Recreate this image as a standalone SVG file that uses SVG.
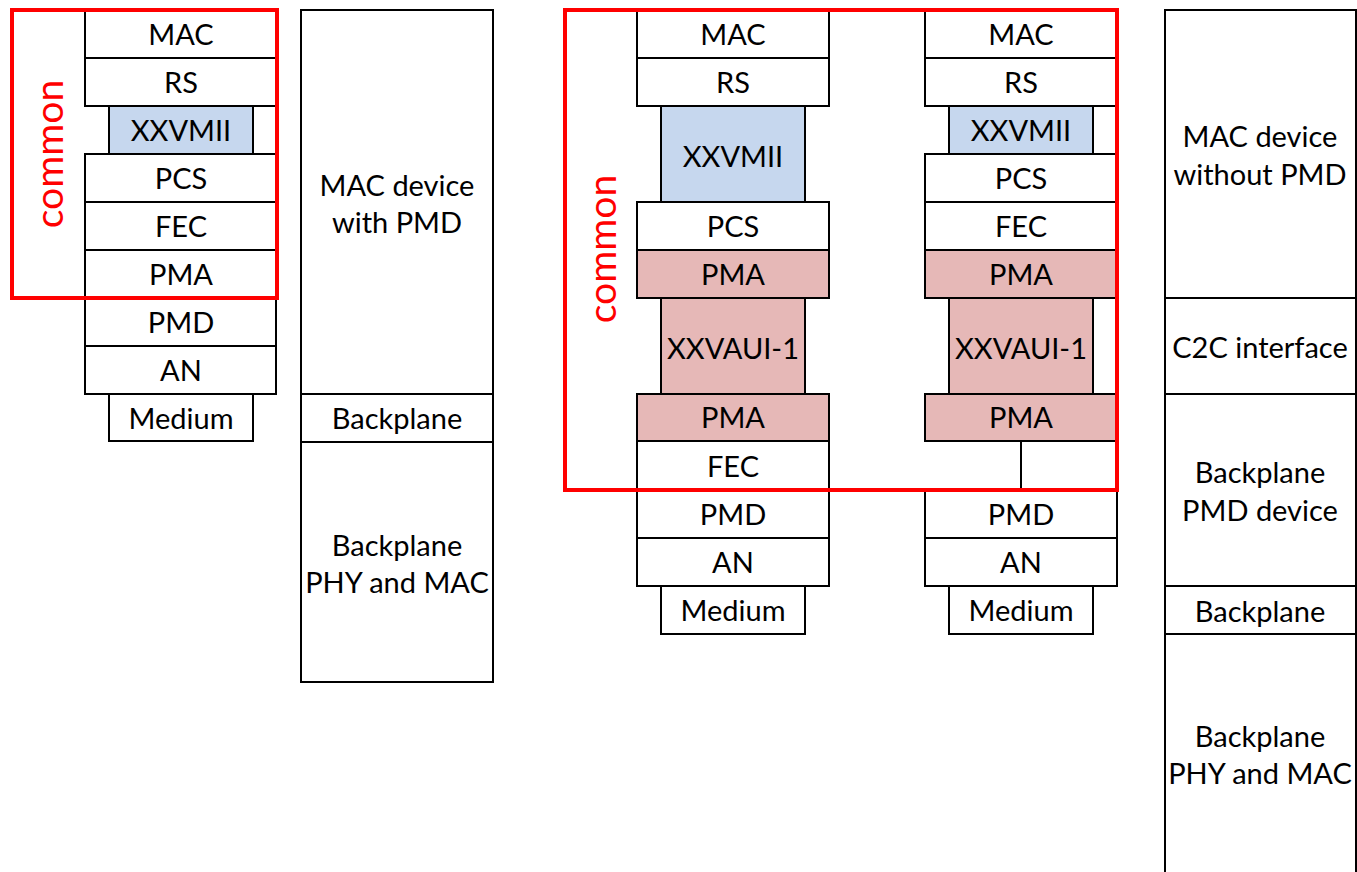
<svg xmlns="http://www.w3.org/2000/svg" width="1357" height="872" viewBox="0 0 1357 872">
<style>
.b{fill:#ffffff;stroke:#000000;stroke-width:2}
.bl{fill:#c6d7ee;stroke:#000000;stroke-width:2}
.pk{fill:#e6b8b7;stroke:#000000;stroke-width:2}
.t{font-family:Lato,"Open Sans",sans-serif;font-size:29px;fill:#000000;text-anchor:middle}
.red{fill:none;stroke:#ff0000;stroke-width:4}
.ct{font-family:Lato,"Open Sans",sans-serif;font-size:39px;fill:#ff0000;text-anchor:middle}
.ln{stroke:#000000;stroke-width:2;fill:none}
</style>
<rect width="1357" height="872" fill="#ffffff"/>

<!-- Left stack -->
<g id="l-mac"><rect class="b" x="85" y="10" width="191" height="48"/><text class="t" x="181" y="45">MAC</text></g>
<g id="l-rs"><rect class="b" x="85" y="58" width="191" height="48"/><text class="t" x="181" y="93">RS</text></g>
<g id="l-xxvmii"><rect class="bl" x="109" y="106" width="144" height="48"/><text class="t" x="181" y="141">XXVMII</text></g>
<g id="l-pcs"><rect class="b" x="85" y="154" width="191" height="48"/><text class="t" x="181" y="189">PCS</text></g>
<g id="l-fec"><rect class="b" x="85" y="202" width="191" height="48"/><text class="t" x="181" y="237">FEC</text></g>
<g id="l-pma"><rect class="b" x="85" y="250" width="191" height="48"/><text class="t" x="181" y="285">PMA</text></g>
<g id="l-pmd"><rect class="b" x="85" y="298" width="191" height="48"/><text class="t" x="181" y="333">PMD</text></g>
<g id="l-an"><rect class="b" x="85" y="346" width="191" height="48"/><text class="t" x="181" y="381">AN</text></g>
<g id="l-medium"><rect class="b" x="109" y="394" width="144" height="47"/><text class="t" x="181" y="429">Medium</text></g>

<!-- Second column -->
<g id="mac-with-pmd"><rect class="b" x="301" y="10" width="192" height="384"/><text class="t" x="397" y="196">MAC device</text><text class="t" x="397" y="233">with PMD</text></g>
<g id="backplane-1"><rect class="b" x="301" y="394" width="192" height="48"/><text class="t" x="397" y="429">Backplane</text></g>
<g id="phy-mac-1"><rect class="b" x="301" y="442" width="192" height="240"/><text class="t" x="397" y="556">Backplane</text><text class="t" x="397" y="593">PHY and MAC</text></g>

<!-- Middle-left stack -->
<g id="m1-mac"><rect class="b" x="637" y="10" width="192" height="48"/><text class="t" x="733" y="45">MAC</text></g>
<g id="m1-rs"><rect class="b" x="637" y="58" width="192" height="48"/><text class="t" x="733" y="93">RS</text></g>
<g id="m1-xxvmii"><rect class="bl" x="661" y="106" width="144" height="96"/><text class="t" x="733" y="167">XXVMII</text></g>
<g id="m1-pcs"><rect class="b" x="637" y="202" width="192" height="48"/><text class="t" x="733" y="237">PCS</text></g>
<g id="m1-pma1"><rect class="pk" x="637" y="250" width="192" height="48"/><text class="t" x="733" y="285">PMA</text></g>
<g id="m1-xxvaui"><rect class="pk" x="661" y="298" width="144" height="96"/><text class="t" x="733" y="359">XXVAUI-1</text></g>
<g id="m1-pma2"><rect class="pk" x="637" y="394" width="192" height="47"/><text class="t" x="733" y="428">PMA</text></g>
<g id="m1-fec"><rect class="b" x="637" y="441" width="192" height="49"/><text class="t" x="733" y="477">FEC</text></g>
<g id="m1-pmd"><rect class="b" x="637" y="490" width="192" height="48"/><text class="t" x="733" y="525">PMD</text></g>
<g id="m1-an"><rect class="b" x="637" y="538" width="192" height="48"/><text class="t" x="733" y="573">AN</text></g>
<g id="m1-medium"><rect class="b" x="661" y="586" width="144" height="48"/><text class="t" x="733" y="621">Medium</text></g>

<!-- Middle-right stack -->
<g id="m2-mac"><rect class="b" x="925" y="10" width="192" height="48"/><text class="t" x="1021" y="45">MAC</text></g>
<g id="m2-rs"><rect class="b" x="925" y="58" width="192" height="48"/><text class="t" x="1021" y="93">RS</text></g>
<g id="m2-xxvmii"><rect class="bl" x="949" y="106" width="144" height="48"/><text class="t" x="1021" y="141">XXVMII</text></g>
<g id="m2-pcs"><rect class="b" x="925" y="154" width="192" height="48"/><text class="t" x="1021" y="189">PCS</text></g>
<g id="m2-fec"><rect class="b" x="925" y="202" width="192" height="48"/><text class="t" x="1021" y="237">FEC</text></g>
<g id="m2-pma1"><rect class="pk" x="925" y="250" width="192" height="48"/><text class="t" x="1021" y="285">PMA</text></g>
<g id="m2-xxvaui"><rect class="pk" x="949" y="298" width="144" height="96"/><text class="t" x="1021" y="359">XXVAUI-1</text></g>
<g id="m2-pma2"><rect class="pk" x="925" y="394" width="192" height="47"/><text class="t" x="1021" y="428">PMA</text></g>
<g id="m2-pmd"><rect class="b" x="925" y="490" width="192" height="48"/><text class="t" x="1021" y="525">PMD</text></g>
<g id="m2-an"><rect class="b" x="925" y="538" width="192" height="48"/><text class="t" x="1021" y="573">AN</text></g>
<g id="m2-medium"><rect class="b" x="949" y="586" width="144" height="48"/><text class="t" x="1021" y="621">Medium</text></g>

<!-- Right column -->
<g id="mac-without-pmd"><rect class="b" x="1165" y="10" width="191" height="288"/><text class="t" x="1260" y="147">MAC device</text><text class="t" x="1260" y="185">without PMD</text></g>
<g id="c2c"><rect class="b" x="1165" y="298" width="191" height="96"/><text class="t" x="1260" y="358">C2C interface</text></g>
<g id="bp-pmd"><rect class="b" x="1165" y="394" width="191" height="192"/><text class="t" x="1260" y="483">Backplane</text><text class="t" x="1260" y="521">PMD device</text></g>
<g id="backplane-2"><rect class="b" x="1165" y="586" width="191" height="48"/><text class="t" x="1260" y="622">Backplane</text></g>
<g id="phy-mac-2"><rect class="b" x="1165" y="634" width="191" height="250"/><text class="t" x="1260" y="747">Backplane</text><text class="t" x="1260" y="784">PHY and MAC</text></g>

<!-- Connectors -->
<g id="connectors">
<line class="ln" x1="1021" y1="441" x2="1021" y2="490"/>
</g>

<!-- Common groupings -->
<g id="common-left"><rect class="red" x="12" y="10" width="265" height="288"/><text class="ct" transform="translate(63,154) rotate(-90)">common</text></g>
<g id="common-middle"><rect class="red" x="565" y="10" width="552" height="480"/><text class="ct" transform="translate(616,249) rotate(-90)">common</text></g>
</svg>
